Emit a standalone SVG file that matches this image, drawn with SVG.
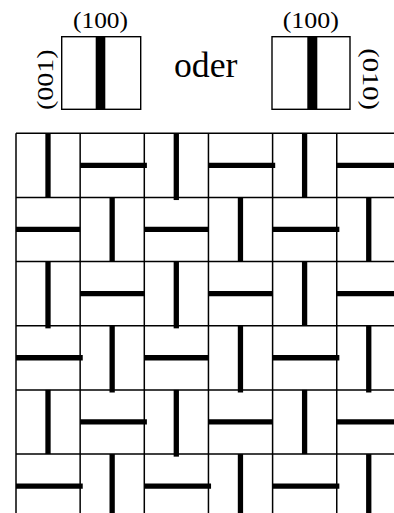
<svg xmlns="http://www.w3.org/2000/svg" width="394" height="513" viewBox="0 0 394 513">
<style>
.t{font-family:"Liberation Serif","Times New Roman",serif;fill:#000}
.box{fill:#fff;stroke:#000;stroke-width:1.4}
.grid{stroke:#000;stroke-width:1.5;fill:none}
.bar{stroke:#000;stroke-width:5.3;stroke-linecap:butt}
</style>
<rect width="394" height="513" fill="#fff"/>
<g id="legend-left">
<rect class="box" x="61.7" y="36.7" width="79" height="72.6"/>
<rect x="95.7" y="36.7" width="9.6" height="72.6" fill="#000"/>
<text class="t" x="73" y="28.3" font-size="23" textLength="55" lengthAdjust="spacingAndGlyphs">(100)</text>
<text class="t" transform="translate(52.7,110) rotate(-90)" font-size="23" textLength="60.7" lengthAdjust="spacingAndGlyphs">(001)</text>
</g>
<g id="label-oder">
<text class="t" x="174" y="77.3" font-size="36" textLength="63.5" lengthAdjust="spacingAndGlyphs">oder</text>
</g>
<g id="legend-right">
<rect class="box" x="272" y="36.7" width="78" height="72.6"/>
<rect x="307.3" y="36.7" width="10" height="72.6" fill="#000"/>
<text class="t" x="282.7" y="28.3" font-size="23" textLength="56.3" lengthAdjust="spacingAndGlyphs">(100)</text>
<text class="t" transform="translate(363,48.3) rotate(90)" font-size="23" textLength="61.7" lengthAdjust="spacingAndGlyphs">(010)</text>
</g>
<g id="pattern">
<g id="grid" class="grid">
<line x1="16" y1="133.3" x2="16" y2="513"/>
<line x1="80.15" y1="133.3" x2="80.15" y2="513"/>
<line x1="144.3" y1="133.3" x2="144.3" y2="513"/>
<line x1="208.45" y1="133.3" x2="208.45" y2="513"/>
<line x1="272.6" y1="133.3" x2="272.6" y2="513"/>
<line x1="336.75" y1="133.3" x2="336.75" y2="513"/>
<line x1="16" y1="133.3" x2="394" y2="133.3"/>
<line x1="16" y1="197.45" x2="394" y2="197.45"/>
<line x1="16" y1="261.6" x2="394" y2="261.6"/>
<line x1="16" y1="325.75" x2="394" y2="325.75"/>
<line x1="16" y1="389.9" x2="394" y2="389.9"/>
<line x1="16" y1="454.05" x2="394" y2="454.05"/>
</g>
<g id="bars" class="bar">
<line x1="48" y1="133.3" x2="48" y2="197.45"/>
<line x1="80.15" y1="165.3" x2="146.9" y2="165.3"/>
<line x1="176.3" y1="133.3" x2="176.3" y2="200.05"/>
<line x1="208.45" y1="165.3" x2="275.2" y2="165.3"/>
<line x1="304.6" y1="133.3" x2="304.6" y2="197.45"/>
<line x1="336.75" y1="165.3" x2="394" y2="165.3"/>

<line x1="16" y1="229.45" x2="80.15" y2="229.45"/>
<line x1="112.15" y1="197.45" x2="112.15" y2="261.6"/>
<line x1="144.3" y1="229.45" x2="208.45" y2="229.45"/>
<line x1="240.45" y1="197.45" x2="240.45" y2="261.6"/>
<line x1="272.6" y1="229.45" x2="339.35" y2="229.45"/>
<line x1="368.75" y1="197.45" x2="368.75" y2="261.6"/>

<line x1="48" y1="261.6" x2="48" y2="328.35"/>
<line x1="80.15" y1="293.6" x2="144.3" y2="293.6"/>
<line x1="176.3" y1="261.6" x2="176.3" y2="328.35"/>
<line x1="208.45" y1="293.6" x2="272.6" y2="293.6"/>
<line x1="304.6" y1="261.6" x2="304.6" y2="325.75"/>
<line x1="336.75" y1="293.6" x2="394" y2="293.6"/>

<line x1="16" y1="357.75" x2="82.75" y2="357.75"/>
<line x1="112.15" y1="325.75" x2="112.15" y2="392.5"/>
<line x1="144.3" y1="357.75" x2="208.45" y2="357.75"/>
<line x1="240.45" y1="325.75" x2="240.45" y2="392.5"/>
<line x1="272.6" y1="357.75" x2="339.35" y2="357.75"/>
<line x1="368.75" y1="325.75" x2="368.75" y2="392.5"/>

<line x1="48" y1="389.9" x2="48" y2="454.05"/>
<line x1="80.15" y1="421.9" x2="146.9" y2="421.9"/>
<line x1="176.3" y1="389.9" x2="176.3" y2="456.65"/>
<line x1="208.45" y1="421.9" x2="272.6" y2="421.9"/>
<line x1="304.6" y1="389.9" x2="304.6" y2="454.05"/>
<line x1="336.75" y1="421.9" x2="394" y2="421.9"/>

<line x1="16" y1="486.05" x2="82.75" y2="486.05"/>
<line x1="112.15" y1="454.05" x2="112.15" y2="513"/>
<line x1="144.3" y1="486.05" x2="211.05" y2="486.05"/>
<line x1="240.45" y1="454.05" x2="240.45" y2="513"/>
<line x1="272.6" y1="486.05" x2="339.35" y2="486.05"/>
<line x1="368.75" y1="454.05" x2="368.75" y2="513"/>
</g>
</g>
</svg>
